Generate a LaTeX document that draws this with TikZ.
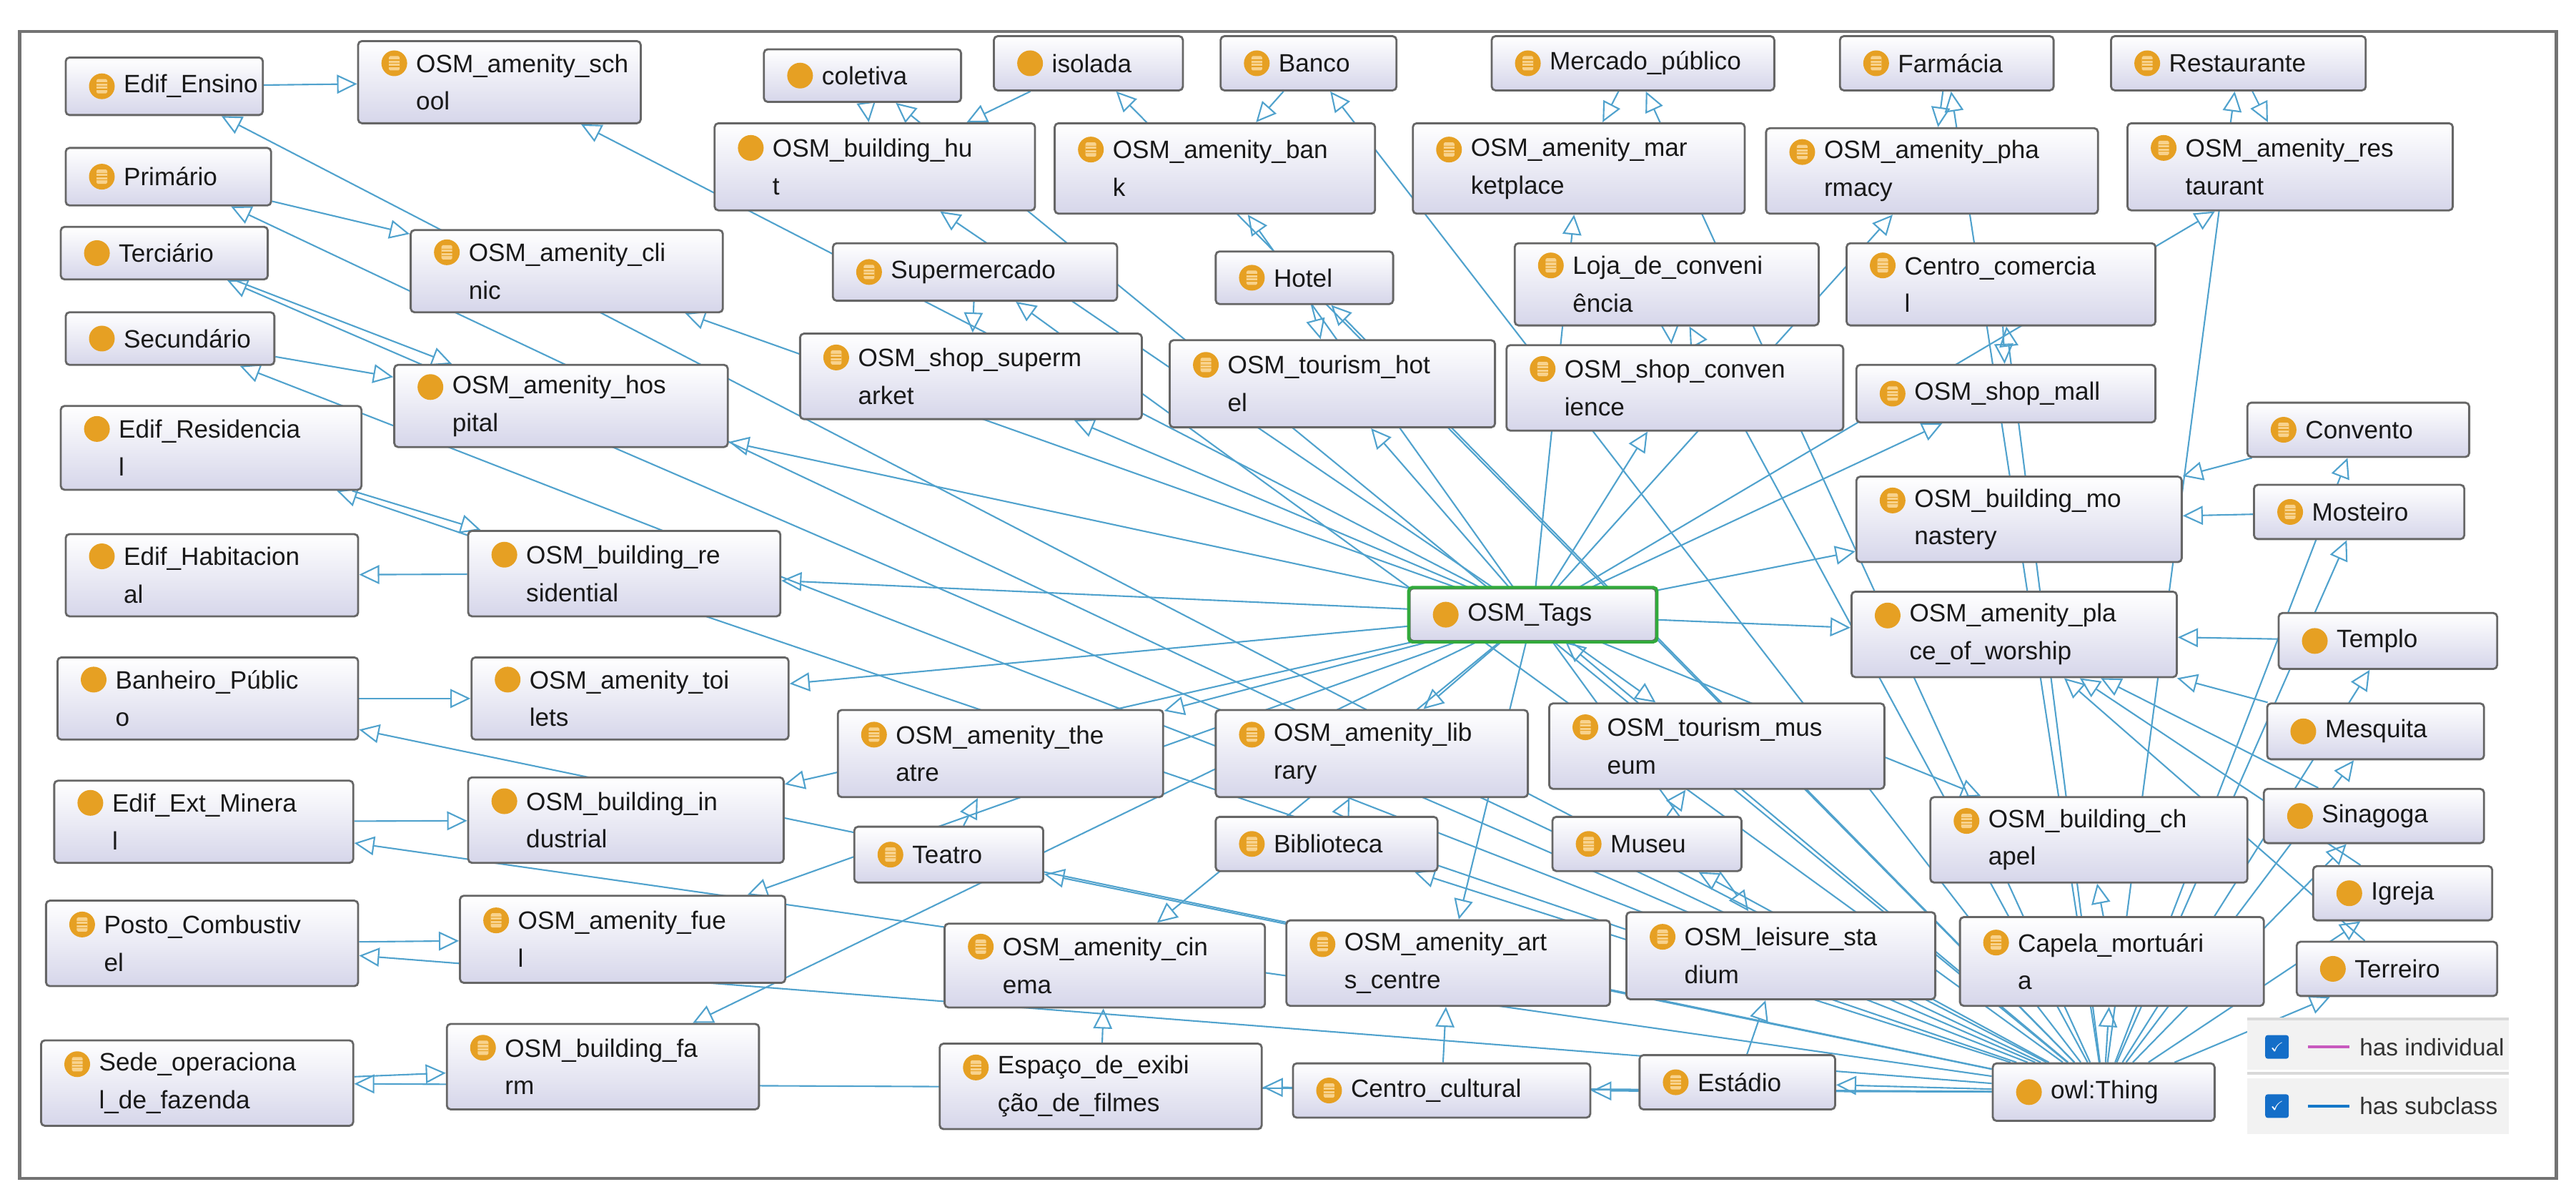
\documentclass[tikz,border=0pt]{standalone}
\usepackage{amssymb}
\usepackage{fontspec}
\setmainfont{Liberation Sans}
\usetikzlibrary{fit,arrows.meta}
\pgfdeclarelayer{bg}
\pgfsetlayers{bg,main}
\definecolor{ic}{RGB}{230,160,35}
\definecolor{icin}{RGB}{248,210,140}
\definecolor{ec}{RGB}{80,162,205}
\definecolor{bx}{RGB}{214,214,234}
\tikzset{
 box/.style={draw=black!60,line width=0.8pt,rounded corners=1.5pt,top color=white,bottom color=bx,inner sep=0pt},
 txt/.style={inner sep=0pt,align=left,font=\fontsize{10}{15}\selectfont,text=black!90},
 e/.style={draw=ec,line width=0.6pt,-{Triangle[open,length=8pt,width=7.5pt]}}
}
\newcommand\iconP[2]{\fill[ic] ({#1},{#2}) circle (0.18cm);}
\newcommand\iconL[2]{\fill[ic] ({#1},{#2}) circle (0.18cm);
 \begin{scope}[shift={({#1},{#2})},x=1cm,y=1cm]
 \fill[icin,rounded corners=0.5pt] (-0.075,-0.1) rectangle (0.075,0.1);
 \draw[ic,line width=0.4pt] (-0.075,0.045)--(0.075,0.045) (-0.075,0)--(0.075,0) (-0.075,-0.045)--(0.075,-0.045);
 \end{scope}}
\newcommand\nA[7]{\node[box,fit={(#2,#3)(#4,#5)}] (#1) {};
 \csname icon#6\endcsname{#2+22}{(#3+#5)/2}
 \node[txt,anchor=west] at ({#2+35},{(#3+#5)/2}) {#7};}
\newcommand\nB[8]{\node[box,fit={(#2,#3)(#4,#5)}] (#1) {};
 \csname icon#6\endcsname{#2+22}{(#3+#5)/2-11.5}
 \node[txt,anchor=west] at ({#2+35},{(#3+#5)/2}) {#7\\#8};}
\begin{document}
\begin{tikzpicture}[x=0.022985cm,y=-0.022985cm]
\useasboundingbox (0,0) rectangle (1568,731);
\draw[black!55,line width=1.2pt] (12,19) rectangle (1556,717);
\nA{ensino}{40}{35}{160}{70}{L}{Edif\_Ensino}
\nB{school}{218}{25}{390}{75}{L}{OSM\_amenity\_sch}{ool}
\nA{coletiva}{465}{30}{585}{62}{P}{coletiva}
\nA{isolada}{605}{22}{720}{55}{P}{isolada}
\nA{banco}{743}{22}{850}{55}{L}{Banco}
\nA{mercado}{908}{22}{1080}{55}{L}{Mercado\_público}
\nA{farmacia}{1120}{22}{1250}{55}{L}{Farmácia}
\nA{restaurante}{1285}{22}{1440}{55}{L}{Restaurante}
\nB{hut}{435}{75}{630}{128}{P}{OSM\_building\_hu}{t}
\nB{bank}{642}{75}{837}{130}{L}{OSM\_amenity\_ban}{k}
\nB{market}{860}{75}{1062}{130}{L}{OSM\_amenity\_mar}{ketplace}
\nB{pharmacy}{1075}{78}{1277}{130}{L}{OSM\_amenity\_pha}{rmacy}
\nB{restaurant}{1295}{75}{1493}{128}{L}{OSM\_amenity\_res}{taurant}
\nA{primario}{40}{90}{165}{125}{L}{Primário}
\nA{terciario}{37}{138}{163}{170}{P}{Terciário}
\nA{secundario}{40}{190}{167}{222}{P}{Secundário}
\nB{clinic}{250}{140}{440}{190}{L}{OSM\_amenity\_cli}{nic}
\nA{supermercado}{507}{148}{680}{183}{L}{Supermercado}
\nA{hotel}{740}{153}{848}{185}{L}{Hotel}
\nB{loja}{922}{148}{1107}{198}{L}{Loja\_de\_conveni}{ência}
\nB{ccomercial}{1124}{148}{1312}{198}{L}{Centro\_comercia}{l}
\nB{supermarket}{487}{203}{695}{255}{L}{OSM\_shop\_superm}{arket}
\nB{thotel}{712}{207}{910}{260}{L}{OSM\_tourism\_hot}{el}
\nB{convenience}{917}{210}{1122}{262}{L}{OSM\_shop\_conven}{ience}
\nA{mall}{1130}{222}{1312}{257}{L}{OSM\_shop\_mall}
\nB{hospital}{240}{222}{443}{272}{P}{OSM\_amenity\_hos}{pital}
\nB{residencial}{37}{247}{220}{298}{P}{Edif\_Residencia}{l}
\nA{convento}{1368}{245}{1503}{278}{L}{Convento}
\nB{monastery}{1130}{290}{1328}{342}{L}{OSM\_building\_mo}{nastery}
\nA{mosteiro}{1372}{295}{1500}{328}{L}{Mosteiro}
\nB{habitacional}{40}{325}{218}{375}{P}{Edif\_Habitacion}{al}
\nB{residential}{285}{323}{475}{375}{P}{OSM\_building\_re}{sidential}
\nA{tags}{858}{358}{1008}{390}{P}{OSM\_Tags}
\draw[draw={rgb,255:red,50;green,170;blue,60},line width=1.2pt,rounded corners=1.5pt] (tags.south west) rectangle (tags.north east);
\nB{pow}{1127}{360}{1325}{412}{P}{OSM\_amenity\_pla}{ce\_of\_worship}
\nA{templo}{1387}{373}{1520}{407}{P}{Templo}
\nB{banheiro}{35}{400}{218}{450}{P}{Banheiro\_Públic}{o}
\nB{toilets}{287}{400}{480}{450}{P}{OSM\_amenity\_toi}{lets}
\nA{mesquita}{1380}{428}{1512}{462}{P}{Mesquita}
\nB{theatre}{510}{432}{708}{485}{L}{OSM\_amenity\_the}{atre}
\nB{library}{740}{432}{930}{485}{L}{OSM\_amenity\_lib}{rary}
\nB{museum}{943}{428}{1147}{480}{L}{OSM\_tourism\_mus}{eum}
\nB{extmineral}{33}{475}{215}{525}{P}{Edif\_Ext\_Minera}{l}
\nB{industrial}{285}{473}{477}{525}{P}{OSM\_building\_in}{dustrial}
\nA{teatro}{520}{503}{635}{537}{L}{Teatro}
\nA{biblioteca}{740}{497}{875}{530}{L}{Biblioteca}
\nA{museu}{945}{497}{1060}{530}{L}{Museu}
\nB{chapel}{1175}{485}{1368}{537}{L}{OSM\_building\_ch}{apel}
\nA{sinagoga}{1378}{480}{1512}{513}{P}{Sinagoga}
\nA{igreja}{1408}{527}{1517}{560}{P}{Igreja}
\nB{posto}{28}{548}{218}{600}{L}{Posto\_Combustiv}{el}
\nB{fuel}{280}{545}{478}{598}{L}{OSM\_amenity\_fue}{l}
\nB{cinema}{575}{562}{770}{613}{L}{OSM\_amenity\_cin}{ema}
\nB{arts}{783}{560}{980}{612}{L}{OSM\_amenity\_art}{s\_centre}
\nB{stadium}{990}{555}{1178}{608}{L}{OSM\_leisure\_sta}{dium}
\nB{capela}{1193}{558}{1378}{612}{L}{Capela\_mortuári}{a}
\nA{terreiro}{1398}{573}{1520}{606}{P}{Terreiro}
\nB{sede}{25}{633}{215}{685}{L}{Sede\_operaciona}{l\_de\_fazenda}
\nB{farm}{272}{623}{462}{675}{L}{OSM\_building\_fa}{rm}
\nB{espaco}{572}{635}{768}{687}{L}{Espaço\_de\_exibi}{ção\_de\_filmes}
\nA{ccultural}{787}{647}{968}{680}{L}{Centro\_cultural}
\nA{estadio}{998}{642}{1117}{675}{L}{Estádio}
\nA{thing}{1213}{647}{1348}{682}{P}{owl:Thing}
% legend
\fill[black!5] (1368,620) rectangle (1527,651);
\fill[black!5] (1368,656) rectangle (1527,690);
\draw[black!15,line width=1pt] (1368,620)--(1527,620) (1368,653)--(1527,653);
\node[fill={rgb,255:red,20;green,110;blue,200},rounded corners=1pt,minimum size=0.33cm,inner sep=0pt,text=white,font=\tiny] (cb1) at (1386,637) {$\checkmark$};
\node[fill={rgb,255:red,20;green,110;blue,200},rounded corners=1pt,minimum size=0.33cm,inner sep=0pt,text=white,font=\tiny] (cb2) at (1386,673) {$\checkmark$};
\coordinate (l1a) at (1405,637); \coordinate (l1b) at (1430,637);
\coordinate (l2a) at (1405,673); \coordinate (l2b) at (1430,673);
\draw[draw={rgb,255:red,200;green,90;blue,190},line width=1.3pt] (l1a)--(l1b);
\draw[draw={rgb,255:red,20;green,120;blue,200},line width=1.3pt] (l2a)--(l2b);
\node[anchor=west,inner sep=0pt,font=\fontsize{9.5}{11}\selectfont,text=black!80] (t1) at (1436,637) {has individual};
\node[anchor=west,inner sep=0pt,font=\fontsize{9.5}{11}\selectfont,text=black!80] (t2) at (1436,673) {has subclass};
\begin{pgfonlayer}{bg}
\foreach \a/\b in {ensino/school,primario/clinic,terciario/hospital,secundario/hospital,residencial/residential,residential/habitacional,banheiro/toilets,extmineral/industrial,posto/fuel,sede/farm,coletiva/hut,isolada/hut,banco/bank,mercado/market,farmacia/pharmacy,restaurante/restaurant,supermercado/supermarket,hotel/thotel,loja/convenience,ccomercial/mall,convento/monastery,mosteiro/monastery,templo/pow,mesquita/pow,sinagoga/pow,igreja/pow,terreiro/pow,capela/chapel,teatro/theatre,biblioteca/library,museu/museum,espaco/cinema,ccultural/arts,estadio/stadium}
 \draw[e] (\a) -- (\b);
\foreach \b in {school,hut,bank,market,pharmacy,restaurant,clinic,supermarket,thotel,convenience,mall,hospital,monastery,residential,pow,toilets,theatre,library,museum,industrial,chapel,fuel,cinema,arts,stadium,farm}
 \draw[e] (tags) -- (\b);
\foreach \b in {tags,ensino,residencial,banheiro,extmineral,posto,sede,coletiva,isolada,banco,mercado,farmacia,restaurante,terciario,secundario,primario,supermercado,hotel,loja,ccomercial,convento,mosteiro,templo,mesquita,sinagoga,igreja,terreiro,capela,teatro,biblioteca,museu,espaco,ccultural,estadio}
 \draw[e] (thing) -- (\b);
\end{pgfonlayer}
\end{tikzpicture}
\end{document}
